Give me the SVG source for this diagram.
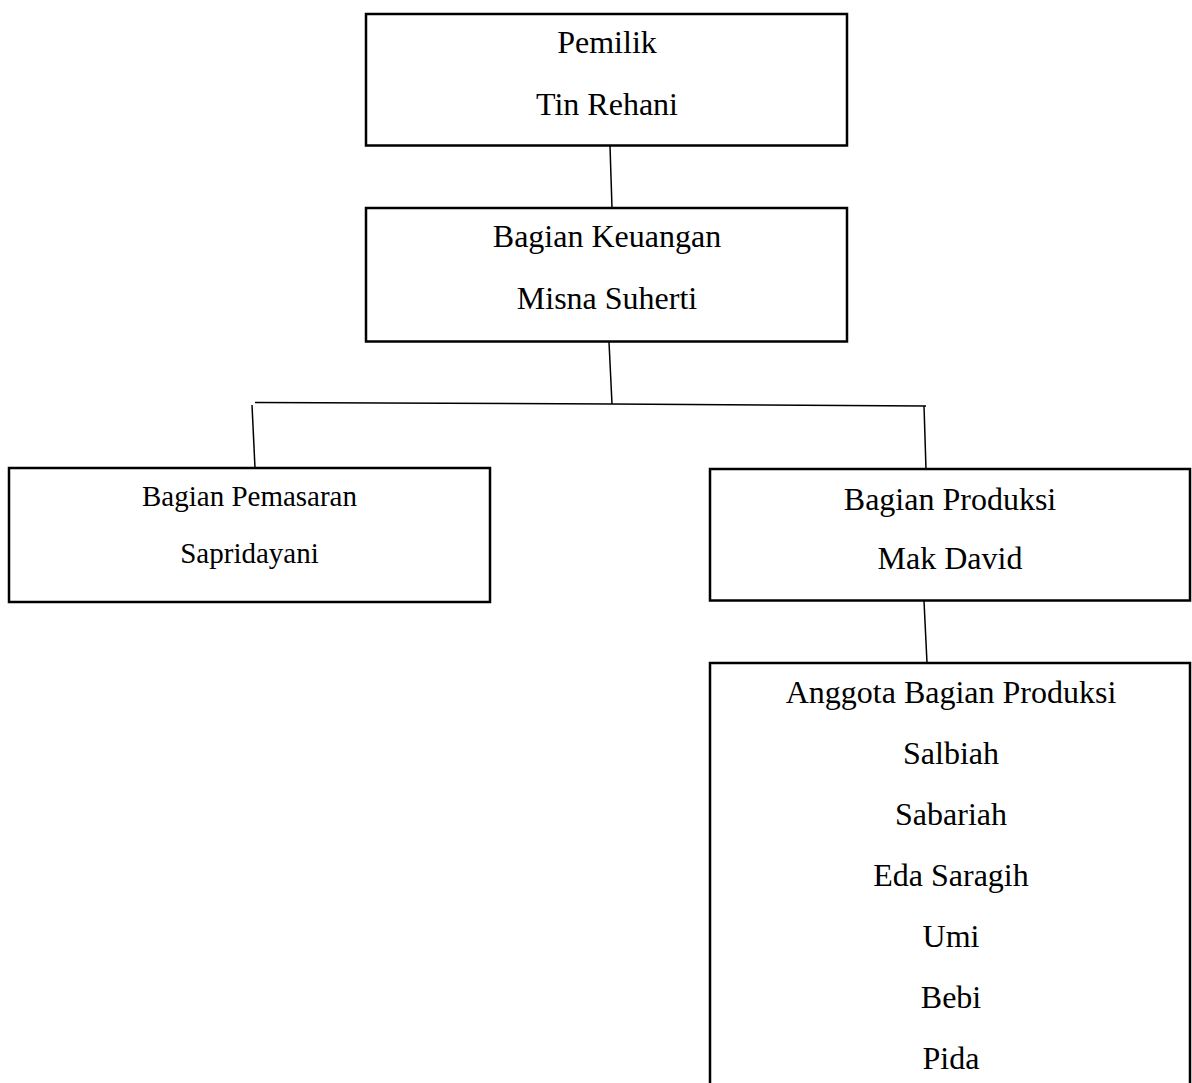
<svg xmlns="http://www.w3.org/2000/svg" width="1192" height="1083" viewBox="0 0 1192 1083">
<style>
.box{fill:#fff;stroke:#000;stroke-width:2.5}
.ln{fill:none;stroke:#000;stroke-width:1.5}
text{font-family:"Liberation Serif","Times New Roman",serif;font-size:32px;fill:#000;text-anchor:middle}
.sm{font-size:29px}
</style>
<rect width="1192" height="1083" fill="#fff"/>
<g id="connectors">
<line class="ln" x1="610" y1="146" x2="612" y2="208"/>
<line class="ln" x1="609" y1="342" x2="612" y2="404"/>
<polyline class="ln" points="255,402.5 612,404 926,406"/>
<line class="ln" x1="252" y1="405" x2="255" y2="468"/>
<line class="ln" x1="924" y1="406" x2="926" y2="469"/>
<line class="ln" x1="924" y1="601" x2="927" y2="663"/>
</g>
<g id="pemilik">
<rect class="box" x="366" y="14" width="481" height="131.5"/>
<text x="607" y="53">Pemilik</text>
<text x="607" y="115">Tin Rehani</text>
</g>
<g id="keuangan">
<rect class="box" x="366" y="208" width="481" height="133.5"/>
<text x="607" y="247">Bagian Keuangan</text>
<text x="607" y="309">Misna Suherti</text>
</g>
<g id="pemasaran">
<rect class="box" x="9" y="468" width="481" height="134"/>
<text class="sm" x="249.5" y="506">Bagian Pemasaran</text>
<text class="sm" x="249.5" y="563">Sapridayani</text>
</g>
<g id="produksi">
<rect class="box" x="710" y="469" width="480" height="131.5"/>
<text x="950" y="510">Bagian Produksi</text>
<text x="950" y="569">Mak David</text>
</g>
<g id="anggota">
<path class="box" d="M710,1090 V663 H1190 V1090"/>
<text x="951" y="703">Anggota Bagian Produksi</text>
<text x="951" y="764">Salbiah</text>
<text x="951" y="825">Sabariah</text>
<text x="951" y="886">Eda Saragih</text>
<text x="951" y="947">Umi</text>
<text x="951" y="1008">Bebi</text>
<text x="951" y="1069">Pida</text>
</g>
</svg>
